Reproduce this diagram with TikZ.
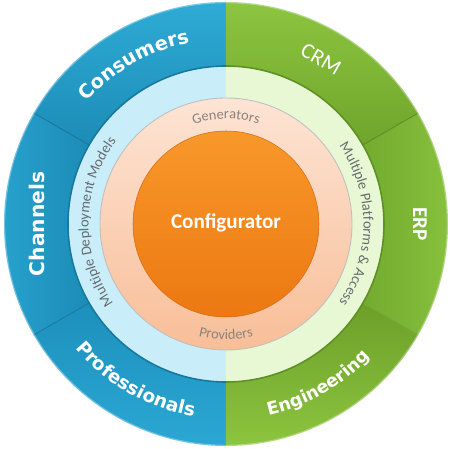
\documentclass[tikz,border=0pt]{standalone}
\usepackage{fontspec}
\setmainfont{Carlito}
\newfontfamily\dejavu{DejaVu Sans}
\usepackage{tikz}
\usetikzlibrary{decorations.text}

\definecolor{consL}{HTML}{2EABD6}
\definecolor{consR}{HTML}{1C8CB6}
\definecolor{chanB}{HTML}{28A3CF}
\definecolor{chanT}{HTML}{1B8CB6}
\definecolor{profL}{HTML}{1D90BD}
\definecolor{profR}{HTML}{2BA7D3}
\definecolor{crmL}{HTML}{8CC540}
\definecolor{crmR}{HTML}{6FA52B}
\definecolor{erpT}{HTML}{8AC33E}
\definecolor{erpB}{HTML}{72AB2F}
\definecolor{engL}{HTML}{6C9F29}
\definecolor{engR}{HTML}{8CC53F}
\definecolor{bandblue}{HTML}{C9EEFA}
\definecolor{bandgreen}{HTML}{E8F8D4}
\definecolor{pinktop}{HTML}{FDE4D4}
\definecolor{pinkbot}{HTML}{F8BE98}
\definecolor{orangetop}{HTML}{F8982A}
\definecolor{orangebot}{HTML}{EC7812}
\definecolor{bandtext}{HTML}{666B6E}
\definecolor{pinktext}{HTML}{8A8280}
\definecolor{blueshadow}{HTML}{17789F}
\definecolor{greenshadow}{HTML}{5E9024}

\newcommand\ringfont[1]{\dejavu\bfseries\fontsize{#1}{#1}\selectfont}
\newcommand\bandfont{\fontsize{8.3}{10}\selectfont}

\begin{document}
\begin{tikzpicture}[x=0.02cm,y=0.02cm,
    ringtext/.style={decorate,decoration={text along path,text align=center,text color=white,text={#1}}},
    bandtext/.style={decorate,decoration={text along path,text align=center,text color=bandtext,text={#1}}},
    pinktext/.style={decorate,decoration={text along path,text align=center,text color=pinktext,text={#1}}}]
  \useasboundingbox (-226,-225) rectangle (224,224);

  % outer ring
  \foreach \a/\b/\ca/\cb/\sa in {90/150/consL/consR/0, 150/210/chanB/chanT/90,
      210/270/profL/profR/0, 30/90/crmL/crmR/0, -30/30/erpB/erpT/90, -90/-30/engL/engR/0}
    \shade[left color=\ca,right color=\cb,shading angle=\sa]
      (\a:222) arc[start angle=\a,end angle=\b,radius=222]
      -- (\b:158) arc[start angle=\b,end angle=\a,radius=158] -- cycle;
  \foreach \a/\c in {150/consR, 210/profL, 30/crmR, -30/engR}
    \draw[\c!85!black,line width=0.5pt] (\a:158) -- (\a:222);
  \draw[white,draw opacity=0.35,line width=0.8pt] (0,0) circle[radius=221.5];

  % inner band
  \fill[bandblue] (90:158) arc[start angle=90,end angle=270,radius=158]
    -- (270:126) arc[start angle=270,end angle=90,radius=126] -- cycle;
  \fill[bandgreen] (-90:158) arc[start angle=-90,end angle=90,radius=158]
    -- (90:126) arc[start angle=90,end angle=-90,radius=126] -- cycle;
  \draw[blueshadow,line width=0.9pt] (90:158) arc[start angle=90,end angle=270,radius=158];
  \draw[greenshadow,line width=0.9pt] (-90:158) arc[start angle=-90,end angle=90,radius=158];

  % pink ring and core
  \shade[top color=pinktop,bottom color=pinkbot] (0,0) circle[radius=126];
  \draw[gray!50,line width=0.5pt] (0,0) circle[radius=126];
  \shade[top color=orangetop,bottom color=orangebot] (0,0) circle[radius=93];
  \draw[orangebot!90!black,line width=0.3pt] (0,0) circle[radius=93];

  \node[text=white,font=\bfseries\fontsize{12}{14}\selectfont] (config) at (0,1) {Configurator};

  % labels
  \path[ringtext=|\ringfont{11}|Consumers] (150:185) arc[start angle=150,end angle=90,radius=185];
  \path[ringtext=|\ringfont{10.5}|Professionals] (210:195) arc[start angle=210,end angle=270,radius=195];
  \path[ringtext=|\ringfont{10}|Engineering] (270:196) arc[start angle=270,end angle=330,radius=196];
  \node[text=white,rotate=90,font=\ringfont{11.5}] (channels) at (180:189) {Channels};
  \node[text=white,rotate=-90,font=\bfseries\fontsize{12}{14}\selectfont] (erp) at (0:194) {ERP};
  \node[text=white,rotate=-30,font=\fontsize{12.5}{15}\selectfont] (crm) at (60:190) {CRM};

  \path[bandtext=|\bandfont|Multiple Deployment Models] (215:137.5) arc[start angle=215,end angle=143,radius=137.5];
  \path[bandtext=|\bandfont|Multiple Platforms {\&} Access] (36:137.5) arc[start angle=36,end angle=-36,radius=137.5];
  \path[pinktext=|\fontsize{8.2}{10}\selectfont|Generators] (120:105) arc[start angle=120,end angle=60,radius=105];
  \path[pinktext=|\fontsize{8.2}{10}\selectfont|Providers] (240:115.5) arc[start angle=240,end angle=300,radius=115.5];
\end{tikzpicture}
\end{document}
